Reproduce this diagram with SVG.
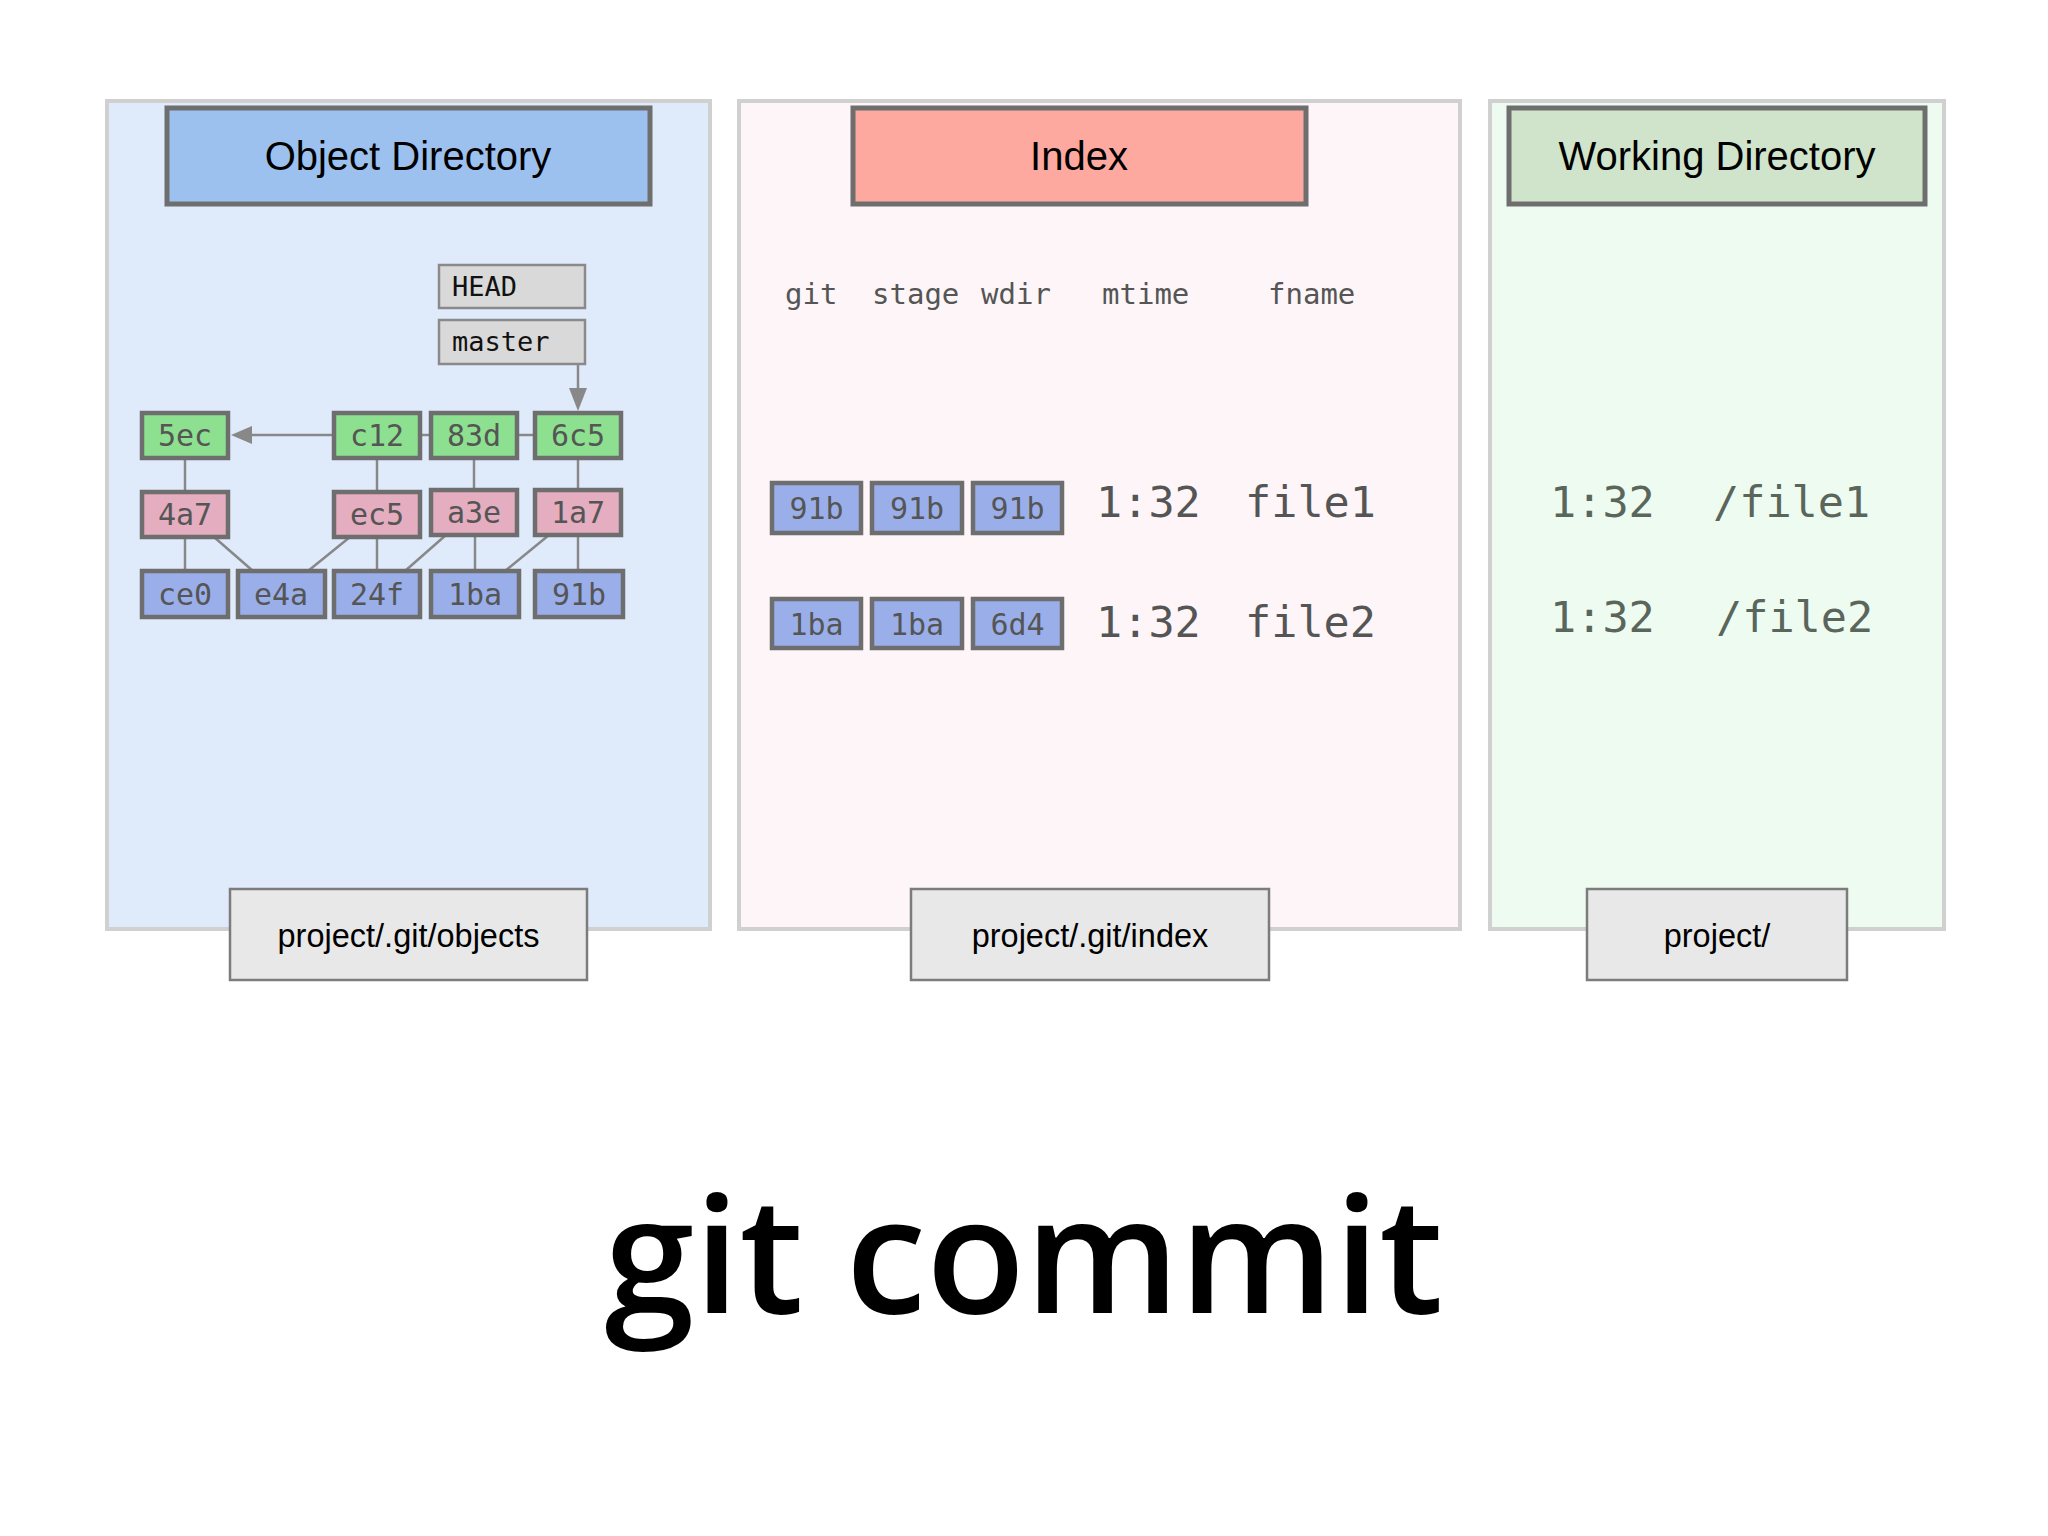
<svg xmlns="http://www.w3.org/2000/svg" width="2048" height="1536" viewBox="0 0 2048 1536">
<style>
.panel{stroke:#d0d0d0;stroke-width:4}
.hdr{stroke:#6e6e6e;stroke-width:5}
.hdrt{font-family:"Liberation Sans",Arial,sans-serif;font-size:40px;fill:#000;text-anchor:middle}
.node{stroke:#6e6e6e;stroke-width:4.5}
.commit{fill:#8de08f}
.tree{fill:#e4adc0}
.blob{fill:#9aafea}
.nt{font-family:"DejaVu Sans Mono",monospace;font-size:30px;fill:#555;text-anchor:middle}
.ref{fill:#d9d9d9;stroke:#8a8a8a;stroke-width:2.5}
.reft{font-family:"DejaVu Sans Mono",monospace;font-size:27px;fill:#111}
.col{font-family:"DejaVu Sans Mono",monospace;font-size:29px;fill:#555}
.big{font-family:"DejaVu Sans Mono",monospace;font-size:43.5px;fill:#555}
.wd{fill:#5a665c}
.foot{fill:#e8e8e8;stroke:#7c7c7c;stroke-width:2.5}
.foott{font-family:"Liberation Sans",Arial,sans-serif;font-size:32.5px;fill:#000;text-anchor:middle}
.edge{stroke:#888;stroke-width:2.5;fill:none}
.ah{fill:#888}
</style>
<rect width="2048" height="1536" fill="#ffffff"/>

<g id="panel-objects">
<rect class="panel" x="107" y="101" width="603" height="828" fill="#dfebfb"/>
<rect class="hdr" x="167" y="108" width="483" height="96" fill="#9dc1ee"/>
<text class="hdrt" x="408" y="170">Object Directory</text>
</g>
<g id="panel-index">
<rect class="panel" x="739" y="101" width="721" height="828" fill="#fdf5f8"/>
<rect class="hdr" x="853" y="108" width="453" height="96" fill="#fda99f"/>
<text class="hdrt" x="1079" y="170">Index</text>
</g>
<g id="panel-wd">
<rect class="panel" x="1490" y="101" width="454" height="828" fill="#eefbf0"/>
<rect class="hdr" x="1509" y="108" width="416" height="96" fill="#cfe4ca" stroke="#707a70"/>
<text class="hdrt" x="1717" y="170">Working Directory</text>
</g>

<g id="connectors">
<line class="edge" x1="578" y1="364" x2="578" y2="392"/>
<polygon class="ah" points="569,388 587,388 578,411"/>
<line class="edge" x1="334" y1="435" x2="250" y2="435"/>
<polygon class="ah" points="252,426 252,444 231,435"/>
<line class="edge" x1="420" y1="435" x2="431" y2="435"/>
<line class="edge" x1="517" y1="435" x2="535" y2="435"/>
<line class="edge" x1="185" y1="458" x2="185" y2="491"/>
<line class="edge" x1="185" y1="537" x2="185" y2="571"/>
<line class="edge" x1="377" y1="458" x2="377" y2="491"/>
<line class="edge" x1="377" y1="537" x2="377" y2="571"/>
<line class="edge" x1="474" y1="458" x2="474" y2="489"/>
<line class="edge" x1="475" y1="535" x2="475" y2="571"/>
<line class="edge" x1="578" y1="458" x2="578" y2="489"/>
<line class="edge" x1="578" y1="535" x2="578" y2="571"/>
<line class="edge" x1="214" y1="537" x2="253" y2="571"/>
<line class="edge" x1="350" y1="537" x2="308" y2="571"/>
<line class="edge" x1="446" y1="535" x2="405" y2="571"/>
<line class="edge" x1="549" y1="535" x2="505" y2="571"/>
</g>

<g id="ref-HEAD"><rect class="ref" x="439" y="265" width="146" height="43"/><text class="reft" x="452" y="296">HEAD</text></g>
<g id="ref-master"><rect class="ref" x="439" y="320" width="146" height="44"/><text class="reft" x="452" y="351">master</text></g>

<g id="n-5ec"><rect class="node commit" x="142" y="413" width="86" height="45"/><text class="nt" x="185" y="446">5ec</text></g>
<g id="n-c12"><rect class="node commit" x="334" y="413" width="86" height="45"/><text class="nt" x="377" y="446">c12</text></g>
<g id="n-83d"><rect class="node commit" x="431" y="413" width="86" height="45"/><text class="nt" x="474" y="446">83d</text></g>
<g id="n-6c5"><rect class="node commit" x="535" y="413" width="86" height="45"/><text class="nt" x="578" y="446">6c5</text></g>

<g id="n-4a7"><rect class="node tree" x="142" y="492" width="86" height="45"/><text class="nt" x="185" y="525">4a7</text></g>
<g id="n-ec5"><rect class="node tree" x="334" y="492" width="86" height="45"/><text class="nt" x="377" y="525">ec5</text></g>
<g id="n-a3e"><rect class="node tree" x="431" y="490" width="86" height="45"/><text class="nt" x="474" y="523">a3e</text></g>
<g id="n-1a7"><rect class="node tree" x="535" y="490" width="86" height="45"/><text class="nt" x="578" y="523">1a7</text></g>

<g id="n-ce0"><rect class="node blob" x="142" y="571" width="86" height="46"/><text class="nt" x="185" y="605">ce0</text></g>
<g id="n-e4a"><rect class="node blob" x="238" y="571" width="87" height="46"/><text class="nt" x="281" y="605">e4a</text></g>
<g id="n-24f"><rect class="node blob" x="334" y="571" width="86" height="46"/><text class="nt" x="377" y="605">24f</text></g>
<g id="n-1ba"><rect class="node blob" x="431" y="571" width="88" height="46"/><text class="nt" x="475" y="605">1ba</text></g>
<g id="n-91b"><rect class="node blob" x="535" y="571" width="88" height="46"/><text class="nt" x="579" y="605">91b</text></g>

<g id="index-columns">
<text class="col" x="785" y="304">git</text>
<text class="col" x="872" y="304">stage</text>
<text class="col" x="981" y="304">wdir</text>
<text class="col" x="1102" y="304">mtime</text>
<text class="col" x="1268" y="304">fname</text>
</g>
<g id="index-row1">
<rect class="node blob" x="772" y="483" width="89" height="50"/><text class="nt" x="816.5" y="519">91b</text>
<rect class="node blob" x="872" y="483" width="90" height="50"/><text class="nt" x="917" y="519">91b</text>
<rect class="node blob" x="973" y="483" width="89" height="50"/><text class="nt" x="1017.5" y="519">91b</text>
<text class="big" x="1096" y="517">1:32</text>
<text class="big" x="1245" y="517">file1</text>
</g>
<g id="index-row2">
<rect class="node blob" x="772" y="599" width="89" height="49"/><text class="nt" x="816.5" y="635">1ba</text>
<rect class="node blob" x="872" y="599" width="90" height="49"/><text class="nt" x="917" y="635">1ba</text>
<rect class="node blob" x="973" y="599" width="89" height="49"/><text class="nt" x="1017.5" y="635">6d4</text>
<text class="big" x="1096" y="637">1:32</text>
<text class="big" x="1245" y="637">file2</text>
</g>
<g id="wd-rows">
<text class="big wd" x="1550" y="517">1:32</text>
<text class="big wd" x="1713" y="517">/file1</text>
<text class="big wd" x="1550" y="632">1:32</text>
<text class="big wd" x="1716" y="632">/file2</text>
</g>

<g id="foot-objects"><rect class="foot" x="230" y="889" width="357" height="91"/><text class="foott" x="408.5" y="947">project/.git/objects</text></g>
<g id="foot-index"><rect class="foot" x="911" y="889" width="358" height="91"/><text class="foott" x="1090" y="947">project/.git/index</text></g>
<g id="foot-wd"><rect class="foot" x="1587" y="889" width="260" height="91"/><text class="foott" x="1717" y="947">project/</text></g>

<text id="title" x="1024" y="1313" font-family="'Open Sans',sans-serif" font-weight="600" font-size="162" fill="#000" text-anchor="middle">git commit</text>
</svg>
